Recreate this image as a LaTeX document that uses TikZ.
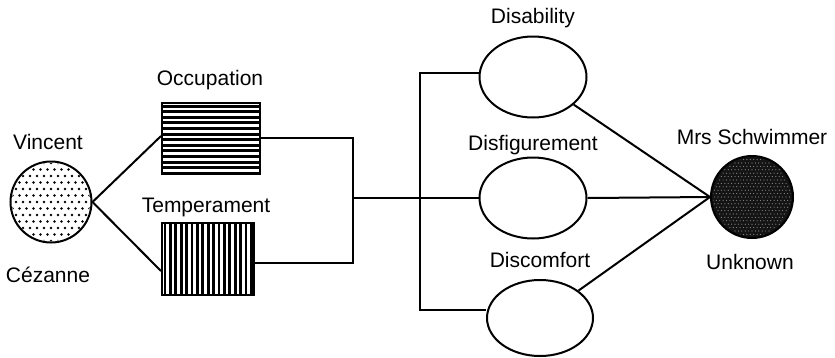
\documentclass[tikz,border=0pt]{standalone}
\usepackage{fontspec}
\setmainfont{Liberation Sans}
\usetikzlibrary{shapes.geometric}
\begin{document}
\begin{tikzpicture}[x=1pt,y=1pt,
  line/.style={line width=2pt},
  lbl/.style={font=\fontsize{21}{24}\selectfont, inner sep=0pt},
  shp/.style={draw, line width=2pt, inner sep=0pt},
]
\useasboundingbox (0,0) rectangle (835,-357);
% shapes
\node[shp, circle, minimum size=81pt] (vin) at (51,-202) {};
\begin{scope}
  \clip (51,-202) circle (39pt);
  \foreach \i in {-6,...,6}{
    \foreach \j in {-6,...,6}{
      \fill ({51+\i*7+3.5*mod(abs(\j),2)},{-202+\j*6.5}) circle (1.3pt);
    }
  }
\end{scope}
\node[shp, rectangle, minimum width=98pt, minimum height=70pt] (occ) at (211,-138) {};
\begin{scope}
  \clip (occ.south west) rectangle (occ.north east);
  \foreach \k in {0,...,12}{
    \fill ([yshift={-2.5-\k*5.6}]occ.north west) rectangle ([yshift={-5.6-\k*5.6}]occ.north east);
  }
\end{scope}
\node[shp, rectangle, minimum width=92pt, minimum height=72pt] (tem) at (208,-259) {};
\begin{scope}
  \clip (tem.south west) rectangle (tem.north east);
  \foreach \k in {0,...,16}{
    \fill ([xshift={2.5+\k*5.4}]tem.north west) rectangle ([xshift={5.4+\k*5.4}]tem.south west);
  }
\end{scope}
\node[shp, ellipse, minimum width=107pt, minimum height=81pt] (dis1) at (533,-77) {};
\node[shp, ellipse, minimum width=107pt, minimum height=81pt] (dis2) at (533,-198) {};
\node[shp, ellipse, minimum width=106pt, minimum height=76pt] (dis3) at (540,-318) {};
\node[shp, circle, minimum size=82pt, fill=black!92] (sch) at (752,-197) {};
\begin{scope}
  \clip (752,-197) circle (39pt);
  \foreach \i in {-12,...,12}{
    \foreach \j in {-12,...,12}{
      \fill[black!45] ({752+\i*3.4+1.7*mod(abs(\j),2)},{-197+\j*3.4}) circle (0.6pt);
    }
  }
\end{scope}
% labels
\node[lbl] (lvin) at (48,-142) {Vincent};
\node[lbl] (lcez) at (48,-275) {Cézanne};
\node[lbl] (locc) at (210,-80) {Occupation};
\node[lbl] (ltem) at (206,-207) {Temperament};
\node[lbl] (ld1) at (533,-18) {Disability};
\node[lbl] (ld2) at (533,-145) {Disfigurement};
\node[lbl] (ld3) at (540,-260) {Discomfort};
\node[lbl] (lsch) at (752,-137) {Mrs Schwimmer};
\node[lbl] (lunk) at (750,-262) {Unknown};
% connectors
\coordinate (jx) at (353,0);
\coordinate (bx) at (420,0);
\draw[line] (vin.east) -- ([yshift=2pt]occ.west);
\draw[line] (vin.east) -- ([yshift=-12pt]tem.west);
\draw[line] (occ.east) -- (occ.east -| jx) -- ([yshift=-4pt]tem.east -| jx) -- ([yshift=-4pt]tem.east);
\draw[line] (jx |- dis2.west) -- (dis2.west);
\draw[line] ([yshift=4pt]dis1.west) -- ([yshift=4pt]dis1.west -| bx) -- ([yshift=8pt]dis3.west -| bx) -- ([yshift=8pt]dis3.west);
\draw[line] (dis1) -- (sch.west);
\draw[line] (dis2.east) -- (sch.west);
\draw[line] (dis3) -- (sch.west);
\end{tikzpicture}
\end{document}
